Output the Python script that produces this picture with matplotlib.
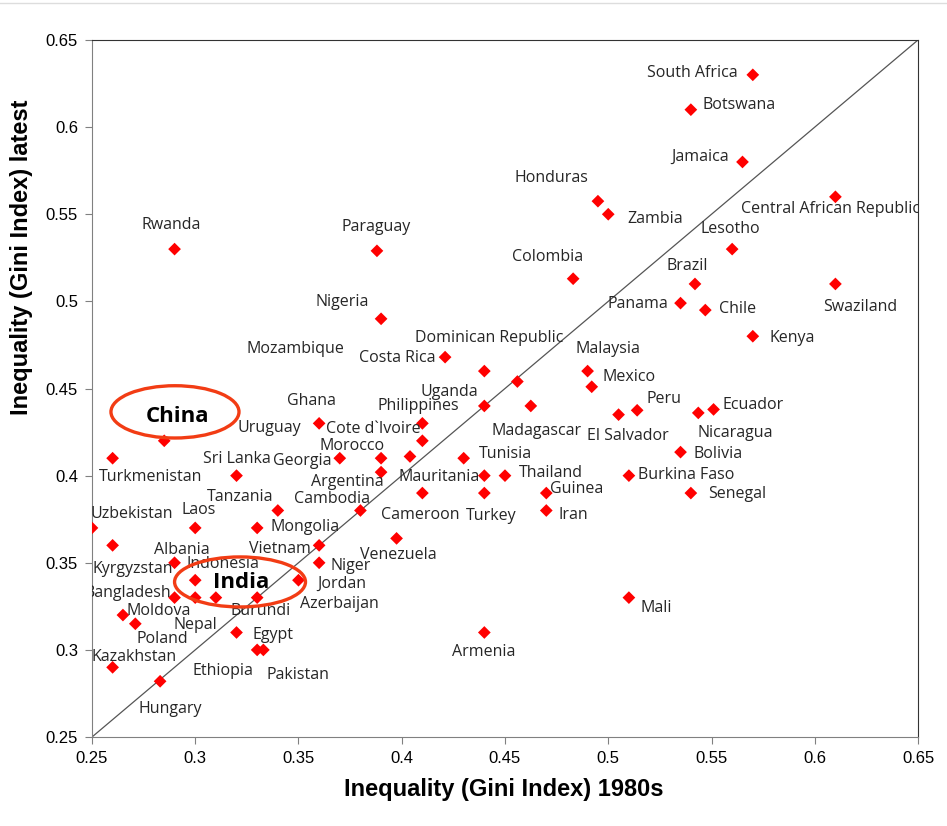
import matplotlib
matplotlib.use("Agg")
import matplotlib.pyplot as plt
from matplotlib.patches import Ellipse
from matplotlib.lines import Line2D

# Gini index: 1980s (x) vs latest (y)
gini_1980s = [0.57, 0.54, 0.565, 0.495, 0.50, 0.61, 0.56, 0.29, 0.388, 0.483,
              0.542, 0.61, 0.535, 0.547, 0.39, 0.57, 0.421, 0.44, 0.49, 0.456,
              0.492, 0.4625, 0.44, 0.505, 0.514, 0.5436, 0.551, 0.36, 0.41, 0.41,
              0.285, 0.26, 0.37, 0.39, 0.404, 0.39, 0.43, 0.535, 0.32, 0.44,
              0.45, 0.51, 0.41, 0.44, 0.47, 0.54, 0.34, 0.38, 0.47, 0.25,
              0.30, 0.33, 0.3975, 0.26, 0.36, 0.29, 0.36, 0.30, 0.35, 0.29,
              0.30, 0.31, 0.33, 0.51, 0.265, 0.271, 0.32, 0.44, 0.33, 0.333,
              0.26, 0.283]
gini_latest = [0.63, 0.61, 0.58, 0.5575, 0.55, 0.56, 0.53, 0.53, 0.529, 0.513,
               0.51, 0.51, 0.499, 0.495, 0.49, 0.48, 0.468, 0.46, 0.46, 0.454,
               0.451, 0.44, 0.44, 0.435, 0.4375, 0.436, 0.438, 0.43, 0.43, 0.42,
               0.42, 0.41, 0.41, 0.41, 0.411, 0.402, 0.41, 0.4135, 0.40, 0.40,
               0.40, 0.40, 0.39, 0.39, 0.39, 0.39, 0.38, 0.38, 0.38, 0.37,
               0.37, 0.37, 0.364, 0.36, 0.36, 0.35, 0.35, 0.34, 0.34, 0.33,
               0.33, 0.33, 0.33, 0.33, 0.32, 0.315, 0.31, 0.31, 0.30, 0.30,
               0.29, 0.282]

countries = ["South Africa", "Botswana", "Jamaica", "Honduras", "Zambia",
             "Central African Republic", "Lesotho", "Rwanda", "Paraguay", "Colombia",
             "Brazil", "Swaziland", "Panama", "Chile", "Nigeria", "Kenya",
             "Mozambique", "Costa Rica", "Dominican Republic", "Malaysia", "Mexico",
             "Uganda", "Philippines", "Peru", "Ecuador", "Ghana", "Madagascar",
             "El Salvador", "Nicaragua", "Uruguay", "Cote d`Ivoire", "Morocco",
             "Georgia", "Sri Lanka", "Tunisia", "Bolivia", "Turkmenistan",
             "Mauritania", "Thailand", "Burkina Faso", "Argentina", "Guinea",
             "Senegal", "Tanzania", "Cambodia", "Uzbekistan", "Laos", "Mongolia",
             "Cameroon", "Turkey", "Iran", "Venezuela", "Vietnam", "Albania",
             "Kyrgyzstan", "Indonesia", "Niger", "Jordan", "Bangladesh", "Moldova",
             "Azerbaijan", "Burundi", "Nepal", "Mali", "Poland", "Egypt",
             "Kazakhstan", "Armenia", "Ethiopia", "Pakistan", "Hungary"]

# where each country name sits (data coords of text centre)
label_x = [0.5406, 0.5633, 0.5444, 0.4723, 0.5226, 0.6074, 0.5590, 0.2883, 0.3875, 0.4708,
           0.5381, 0.6219, 0.5144, 0.5628, 0.3711, 0.5890, 0.3483, 0.3977, 0.4423, 0.4999,
           0.5100, 0.4229, 0.4079, 0.5270, 0.5701, 0.3565, 0.4655, 0.5096, 0.5614, 0.3357,
           0.3861, 0.3759, 0.3517, 0.3202, 0.4500, 0.5532, 0.2786, 0.4180, 0.4723, 0.5377,
           0.3735, 0.4849, 0.5623, 0.3217, 0.3662, 0.2694, 0.3018, 0.3531, 0.4088, 0.4432,
           0.4829, 0.3982, 0.3410, 0.2936, 0.2699, 0.3134, 0.3754, 0.3711, 0.2674, 0.2824,
           0.3696, 0.3318, 0.2999, 0.5231, 0.2839, 0.3377, 0.2703, 0.4398, 0.3134, 0.3498,
           0.2878]
label_y = [0.6312, 0.6128, 0.5830, 0.5709, 0.5474, 0.5531, 0.5416, 0.5439, 0.5428, 0.5255,
           0.5204, 0.4968, 0.4986, 0.4957, 0.4997, 0.4790, 0.4727, 0.4676, 0.4790, 0.4727,
           0.4567, 0.4482, 0.4398, 0.4440, 0.4406, 0.4429, 0.4257, 0.4228, 0.4245, 0.4274,
           0.4266, 0.4172, 0.4084, 0.4096, 0.4125, 0.4125, 0.3993, 0.3993, 0.4016, 0.4004,
           0.3964, 0.3924, 0.3895, 0.3878, 0.3866, 0.3780, 0.3803, 0.3706, 0.3774, 0.3769,
           0.3774, 0.3545, 0.3579, 0.3573, 0.3464, 0.3493, 0.3482, 0.3378, 0.3327, 0.3223,
           0.3263, 0.3223, 0.3143, 0.3241, 0.3063, 0.3086, 0.2959, 0.2988, 0.2879, 0.2856,
           0.2661]

highlights = ["China", "India"]
highlight_pos = [(0.2916, 0.4337), (0.3222, 0.3384)]
ellipse_box = [(0.2902, 0.4366, 0.062, 0.030), (0.3217, 0.339, 0.0634, 0.0287)]

xticks = [0.25, 0.3, 0.35, 0.4, 0.45, 0.5, 0.55, 0.6, 0.65]
yticks = [0.25, 0.3, 0.35, 0.4, 0.45, 0.5, 0.55, 0.6, 0.65]

fig = plt.figure(figsize=(9.47, 8.26), dpi=100)
ax = fig.add_axes([0.0971, 0.1077, 0.8723, 0.8439])

ax.plot([0.25, 0.65], [0.25, 0.65], color="#555555", lw=0.9, zorder=1)
ax.scatter(gini_1980s, gini_latest, marker="D", s=42, color="#ff0000",
           edgecolors="none", zorder=3)

for name, lx, ly in zip(countries, label_x, label_y):
    ax.text(lx, ly, name, ha="center", va="center", fontsize=11.5,
            family="Open Sans", color="#262626", clip_on=True, zorder=4)

for name, (hx, hy), (ex, ey, ew, eh) in zip(highlights, highlight_pos, ellipse_box):
    ax.text(hx, hy, name, ha="center", va="center", fontsize=16,
            family="Open Sans", fontweight="bold", color="black", zorder=5)
    ax.add_patch(Ellipse((ex, ey), ew, eh, fill=False, edgecolor="#f23c14",
                         lw=2.4, zorder=5))

ax.set_xlim(0.25, 0.65)
ax.set_ylim(0.25, 0.65)
ax.set_xticks(xticks)
ax.set_yticks(yticks)
ax.set_xticklabels([f"{t:g}" for t in xticks], family="Liberation Sans", fontsize=12)
ax.set_yticklabels([f"{t:g}" for t in yticks], family="Liberation Sans", fontsize=12)
ax.tick_params(direction="out", length=5, width=0.8, color="#808080", pad=5)

for side in ["left", "bottom"]:
    ax.spines[side].set_color("#808080")
for side in ["top", "right"]:
    ax.spines[side].set_color("#333333")

fig.text(0.532, 0.0436, "Inequality (Gini Index) 1980s", ha="center", va="center",
         family="Liberation Sans", fontweight="bold", fontsize=17)
fig.text(0.0232, 0.689, "Inequality (Gini Index) latest", ha="center", va="center",
         rotation=90, family="Liberation Sans", fontweight="bold", fontsize=17)

# thin grey border line at the very top of the screenshot
fig.add_artist(Line2D([0, 1], [0.996, 0.996], color="#dddddd", lw=1))

fig.savefig("out.png", dpi=100)
